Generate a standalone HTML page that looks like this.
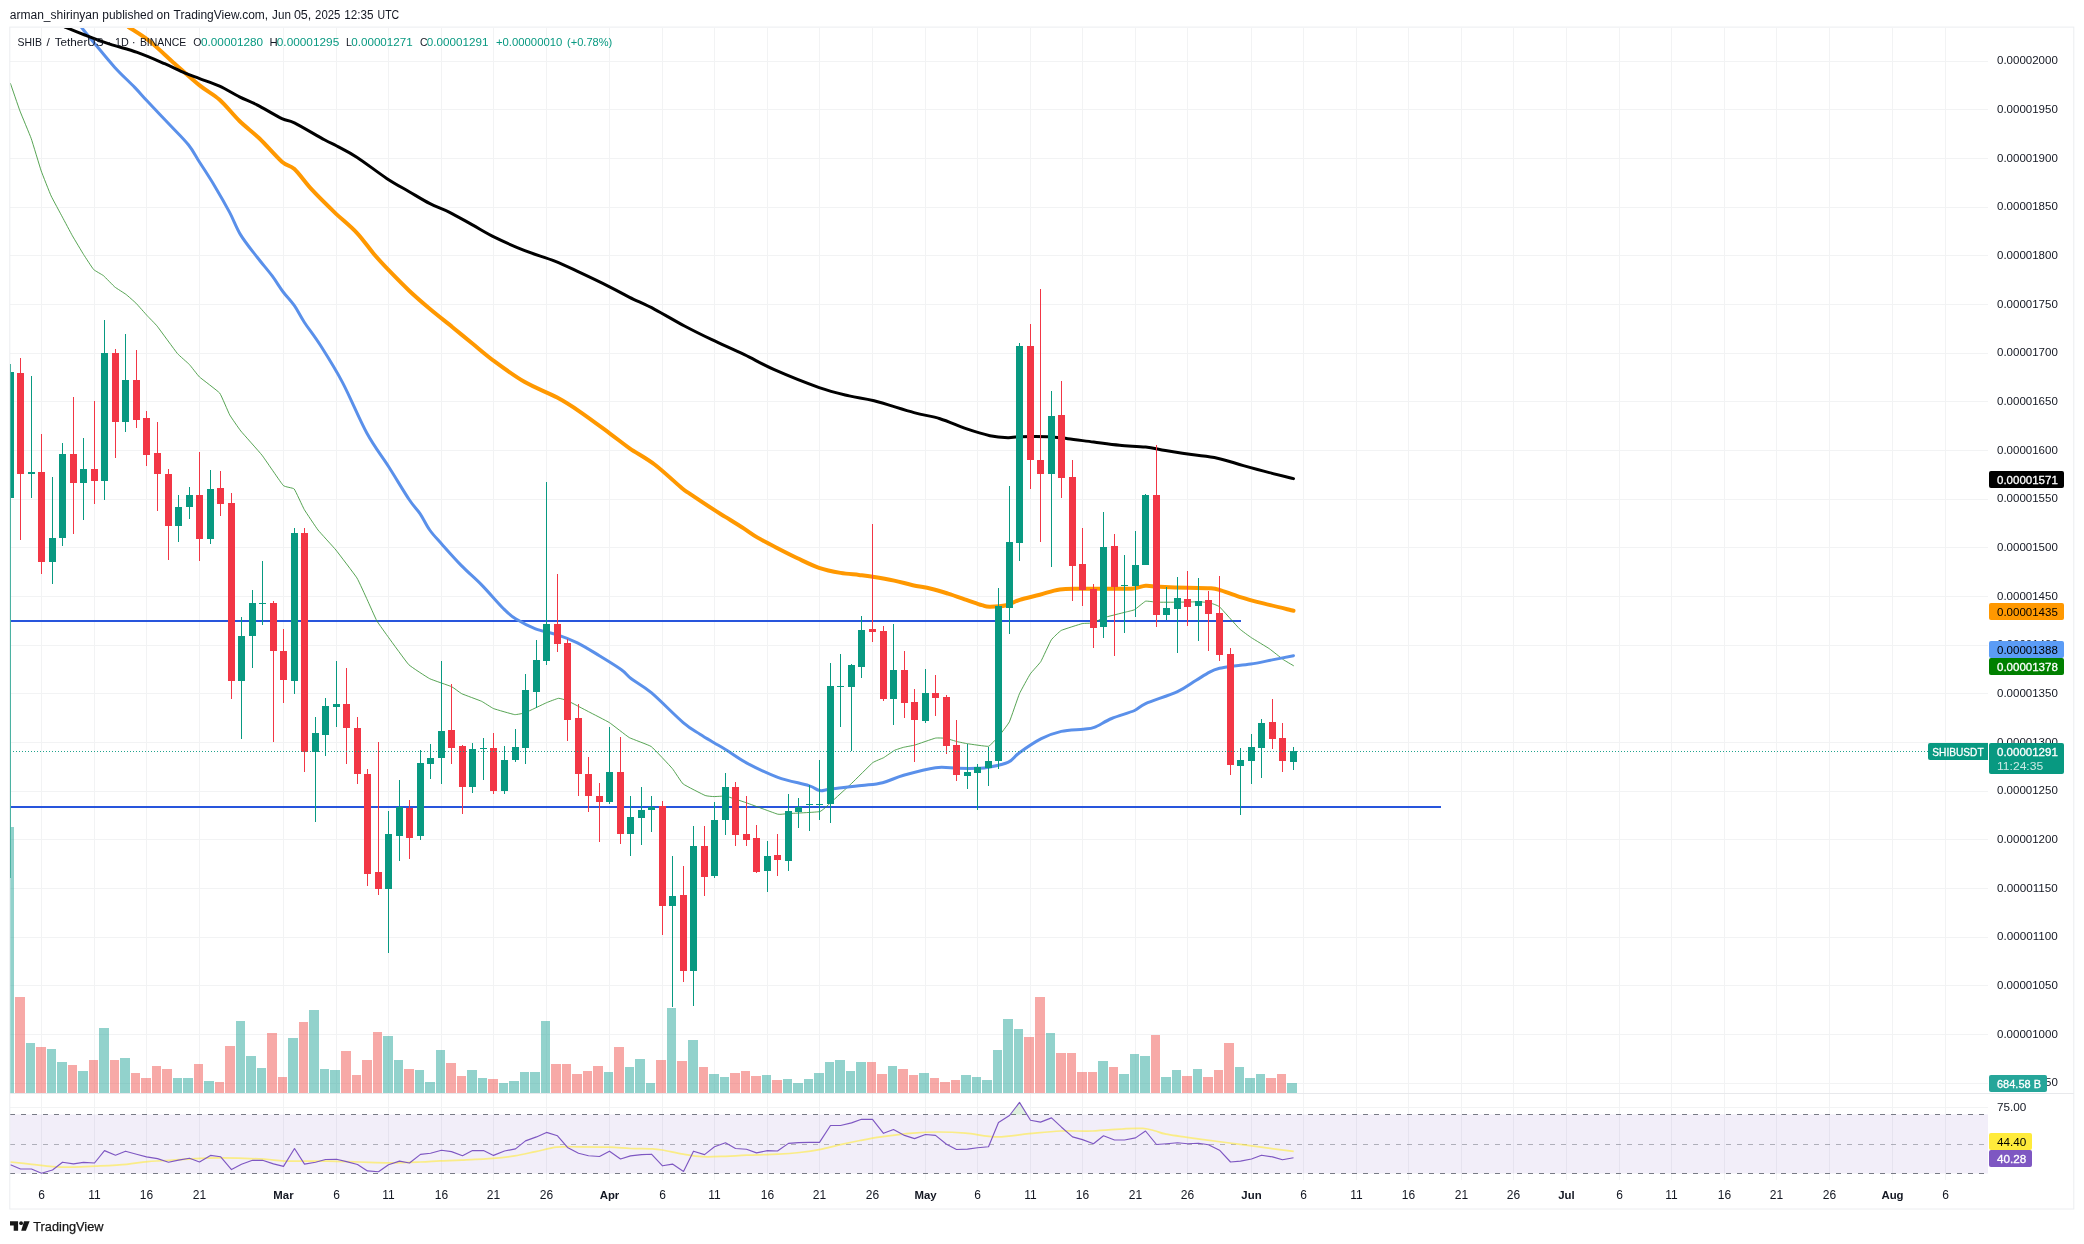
<!DOCTYPE html>
<html><head><meta charset="utf-8"><title>SHIBUSDT chart</title>
<style>html,body{margin:0;padding:0;background:#fff;width:2084px;height:1244px;overflow:hidden}svg{display:block;will-change:transform}text{font-family:"Liberation Sans", sans-serif;white-space:pre}</style>
</head><body>
<svg width="2084" height="1244" viewBox="0 0 2084 1244" font-family='"Liberation Sans", sans-serif'>
<rect width="2084" height="1244" fill="#fff"/>
<defs>
<clipPath id="cp"><rect x="10" y="28" width="1978" height="1181"/></clipPath>
<clipPath id="cm"><rect x="10" y="28" width="1978" height="1065.5"/></clipPath>
</defs>
<path d="M41.5,28V1180M94.5,28V1180M146.5,28V1180M199.5,28V1180M283.5,28V1180M336.5,28V1180M388.5,28V1180M441.5,28V1180M493.5,28V1180M546.5,28V1180M609.5,28V1180M662.5,28V1180M714.5,28V1180M767.5,28V1180M819.5,28V1180M872.5,28V1180M925.5,28V1180M977.5,28V1180M1030.5,28V1180M1082.5,28V1180M1135.5,28V1180M1187.5,28V1180M1251.5,28V1180M1303.5,28V1180M1356.5,28V1180M1408.5,28V1180M1461.5,28V1180M1513.5,28V1180M1566.5,28V1180M1619.5,28V1180M1671.5,28V1180M1724.5,28V1180M1776.5,28V1180M1829.5,28V1180M1892.5,28V1180M1945.5,28V1180M10,61.5H1988M10,109.5H1988M10,158.5H1988M10,207.5H1988M10,255.5H1988M10,304.5H1988M10,353.5H1988M10,401.5H1988M10,450.5H1988M10,499.5H1988M10,547.5H1988M10,596.5H1988M10,645.5H1988M10,693.5H1988M10,742.5H1988M10,791.5H1988M10,839.5H1988M10,888.5H1988M10,937.5H1988M10,985.5H1988M10,1034.5H1988M10,1083.5H1988M10,1107.5H1988" stroke="#F2F3F4" stroke-width="1" fill="none" shape-rendering="crispEdges"/>
<rect x="10" y="1114.5" width="1978" height="59.0" fill="#7E57C2" fill-opacity="0.1"/>
<path d="M10,1114.5H1988M10,1173.5H1988" stroke="#787B86" stroke-width="1" stroke-dasharray="5 6" fill="none" shape-rendering="crispEdges"/>
<path d="M10,1144.5H1988" stroke="#787B86" stroke-opacity="0.55" stroke-width="1" stroke-dasharray="5 6" fill="none" shape-rendering="crispEdges"/>
<g clip-path="url(#cm)" shape-rendering="crispEdges"><path d="M10,827H14V1093H10ZM26,1043H35V1093H26ZM47,1049H56V1093H47ZM57,1062H67V1093H57ZM78,1071H88V1093H78ZM99,1028H109V1093H99ZM120,1058H130V1093H120ZM173,1078H182V1093H173ZM183,1078H193V1093H183ZM204,1081H214V1093H204ZM236,1021H245V1093H236ZM246,1056H256V1093H246ZM257,1068H266V1093H257ZM288,1038H298V1093H288ZM309,1010H319V1093H309ZM320,1069H329V1093H320ZM330,1070H340V1093H330ZM383,1036H393V1093H383ZM394,1060H403V1093H394ZM415,1070H424V1093H415ZM425,1082H435V1093H425ZM436,1050H445V1093H436ZM467,1070H477V1093H467ZM478,1078H487V1093H478ZM499,1083H508V1093H499ZM509,1081H519V1093H509ZM520,1072H529V1093H520ZM530,1072H540V1093H530ZM541,1021H550V1093H541ZM604,1072H613V1093H604ZM625,1067H634V1093H625ZM635,1059H645V1093H635ZM646,1083H655V1093H646ZM667,1008H676V1093H667ZM688,1040H698V1093H688ZM709,1074H719V1093H709ZM720,1077H729V1093H720ZM762,1075H771V1093H762ZM783,1079H792V1093H783ZM793,1083H803V1093H793ZM804,1079H813V1093H804ZM814,1073H824V1093H814ZM825,1062H834V1093H825ZM835,1060H845V1093H835ZM846,1071H855V1093H846ZM856,1062H866V1093H856ZM888,1066H897V1093H888ZM919,1073H929V1093H919ZM961,1075H971V1093H961ZM972,1077H981V1093H972ZM982,1080H992V1093H982ZM993,1050H1002V1093H993ZM1003,1019H1013V1093H1003ZM1014,1029H1023V1093H1014ZM1046,1033H1055V1093H1046ZM1098,1061H1108V1093H1098ZM1119,1074H1129V1093H1119ZM1130,1054H1139V1093H1130ZM1140,1056H1150V1093H1140ZM1161,1077H1171V1093H1161ZM1172,1070H1181V1093H1172ZM1193,1069H1202V1093H1193ZM1235,1067H1244V1093H1235ZM1245,1078H1255V1093H1245ZM1256,1074H1265V1093H1256ZM1287,1083H1297V1093H1287Z" fill="#26A69A" fill-opacity="0.5"/><path d="M15,997H25V1093H15ZM36,1047H46V1093H36ZM68,1065H77V1093H68ZM89,1060H98V1093H89ZM110,1060H119V1093H110ZM131,1073H140V1093H131ZM141,1078H151V1093H141ZM152,1066H161V1093H152ZM162,1069H172V1093H162ZM194,1064H203V1093H194ZM215,1082H224V1093H215ZM225,1046H235V1093H225ZM267,1033H277V1093H267ZM278,1077H287V1093H278ZM299,1022H308V1093H299ZM341,1051H351V1093H341ZM352,1075H361V1093H352ZM362,1060H372V1093H362ZM373,1032H382V1093H373ZM404,1069H414V1093H404ZM446,1063H456V1093H446ZM457,1076H466V1093H457ZM488,1079H498V1093H488ZM551,1064H561V1093H551ZM562,1064H571V1093H562ZM572,1074H582V1093H572ZM583,1071H592V1093H583ZM593,1066H603V1093H593ZM614,1047H624V1093H614ZM656,1060H666V1093H656ZM677,1061H687V1093H677ZM699,1067H708V1093H699ZM730,1073H740V1093H730ZM741,1071H750V1093H741ZM751,1076H761V1093H751ZM772,1080H782V1093H772ZM867,1062H876V1093H867ZM877,1074H887V1093H877ZM898,1069H908V1093H898ZM909,1075H918V1093H909ZM930,1078H939V1093H930ZM940,1082H950V1093H940ZM951,1080H960V1093H951ZM1024,1037H1034V1093H1024ZM1035,997H1045V1093H1035ZM1056,1053H1066V1093H1056ZM1067,1053H1076V1093H1067ZM1077,1072H1087V1093H1077ZM1088,1072H1097V1093H1088ZM1109,1067H1118V1093H1109ZM1151,1035H1160V1093H1151ZM1182,1076H1192V1093H1182ZM1203,1077H1213V1093H1203ZM1214,1070H1223V1093H1214ZM1224,1043H1234V1093H1224ZM1266,1078H1276V1093H1266ZM1277,1074H1286V1093H1277Z" fill="#EF5350" fill-opacity="0.5"/></g>
<path d="M10,621H1241M10,807H1441" stroke="#2855DC" stroke-width="2" fill="none" shape-rendering="crispEdges"/>
<g clip-path="url(#cm)" fill="none" stroke-linejoin="round" stroke-linecap="round">
<path d="M10.5,83.6C10.97,84.97 18.96,108.35 20,111.1C21.04,113.84 30.14,135.51 31.2,138.5C32.26,141.49 40.21,168.03 41.2,170.9C42.2,173.77 50.04,193.59 51.1,195.9C52.16,198.21 61.34,215.1 62.4,217.1C63.46,219.09 71.34,233.93 72.4,235.8C73.46,237.67 82.54,252.81 83.6,254.5C84.66,256.19 92.6,268.44 93.6,269.5C94.59,270.56 102.44,274.82 103.5,275.7C104.56,276.57 113.67,286.06 114.8,287C115.92,287.94 124.94,293.59 126,294.4C127.06,295.21 134.94,302.13 136,303.2C137.06,304.26 146.14,314.55 147.2,315.7C148.26,316.85 155.69,324.31 157.2,326.2C158.7,328.08 175.69,351.48 177.3,353.4C178.91,355.31 188.29,363.32 189.4,364.5C190.51,365.68 197.99,375.57 199.5,377C201.01,378.43 218.19,391.21 219.7,393.1C221.21,395 228.64,413 229.7,414.9C230.75,416.79 239.19,428.99 240.8,431C242.42,433.01 259.88,452.48 262,455.2C264.12,457.92 281.59,483.71 283.2,485.4C284.81,487.09 293.14,487.79 294.2,489C295.25,490.21 303.11,507.55 304.3,509.6C305.49,511.65 316.42,527.98 318,530C319.58,532.02 333.95,547.61 335.9,550C337.84,552.39 355.33,575.4 356.9,577.9C358.47,580.39 366.31,597.75 367.3,599.9C368.3,602.04 375.73,618.9 376.8,620.8C377.88,622.69 387.2,635.6 388.8,637.8C390.4,640 406.75,662.66 408.8,664.7C410.85,666.75 427.56,677.6 429.7,678.7C431.84,679.8 450.1,685.95 451.7,686.7C453.3,687.45 460.2,692.97 461.7,693.7C463.19,694.43 480,700.55 481.6,701.3C483.2,702.04 491.95,707.94 493.6,708.6C495.25,709.26 513,714.4 514.6,714.6C516.2,714.8 523.9,713.2 525.5,712.6C527.1,712 544.85,703.42 546.5,702.7C548.15,701.99 557.45,698.4 558.5,698.3C559.55,698.2 566,700.04 567.5,700.7C569,701.37 586.3,710.5 588.4,711.6C590.5,712.7 607.36,721.3 609.4,722.6C611.44,723.9 627.2,736.4 629.3,737.6C631.39,738.8 649.15,745.06 651.3,746.6C653.45,748.14 670.7,766.63 672.3,768.5C673.89,770.37 681.56,782.65 683.2,784C684.85,785.35 703.66,794.87 705.2,795.5C706.74,796.13 712.97,796.57 714,796.6C715.03,796.63 724.3,795.9 725.9,796.2C727.5,796.5 743.3,801.7 745.9,802.6C748.5,803.5 775.7,813.65 777.8,814.2C779.89,814.75 785.7,813.73 787.8,813.6C789.9,813.47 817.65,812.15 819.8,811.6C821.94,811.05 829.11,804.01 830.7,802.6C832.3,801.19 849.6,785.29 851.7,783.3C853.8,781.3 871.11,763.98 872.7,762.7C874.3,761.42 882.5,758.32 883.6,757.7C884.7,757.08 893.6,750.82 894.6,750.3C895.6,749.78 902.6,747.56 903.6,747.3C904.6,747.04 913,745.56 914.6,745.1C916.2,744.64 933.96,738.44 935.5,738.1C937.04,737.76 944.4,738.12 945.5,738.3C946.6,738.48 956.4,741.43 957.5,741.7C958.6,741.97 965.96,743.47 967.5,743.7C969.04,743.93 986.86,746.65 988.4,746.3C989.94,745.95 997.35,737.93 998.4,736.7C999.45,735.48 1008.35,723.94 1009.4,721.8C1010.45,719.65 1018.36,696.19 1019.4,693.8C1020.44,691.4 1029.23,675.51 1030.3,673.9C1031.37,672.29 1039.75,663.3 1040.8,661.6C1041.85,659.9 1050.27,641.46 1051.3,639.9C1052.33,638.34 1059.75,631.21 1061.3,630.4C1062.85,629.59 1080.61,623.97 1082.2,623.6C1083.8,623.23 1092.12,623.29 1093.2,623C1094.28,622.71 1102.08,618.25 1103.7,617.7C1105.32,617.16 1124.05,612.5 1125.6,612.1C1127.14,611.7 1133.6,610.25 1134.6,609.7C1135.6,609.16 1144.5,601.58 1145.6,601.2C1146.7,600.83 1155,602.15 1156.6,602.2C1158.19,602.25 1175.36,602.22 1177.5,602.2C1179.64,602.18 1197.9,601.77 1199.5,601.8C1201.1,601.83 1208.51,602.55 1209.5,602.8C1210.49,603.04 1217.91,605.41 1219.4,606.7C1220.89,608 1237.8,627.15 1239.4,628.7C1241,630.25 1249.91,636.7 1251.4,637.7C1252.89,638.7 1267.7,647.61 1269.3,648.7C1270.89,649.8 1282.09,658.75 1283.3,659.6C1284.51,660.45 1292.99,665.4 1293.5,665.7" stroke="#3A9436" stroke-opacity="0.85" stroke-width="1"/>
<path d="M81.1,27C83.38,29.78 89.18,36.97 94.8,43.7C100.42,50.43 108.15,60.12 114.8,67.4C121.45,74.68 129.3,81.78 134.7,87.4C140.1,93.02 141.37,94.87 147.2,101.1C153.03,107.33 162.83,117.52 169.7,124.8C176.57,132.08 183.42,138.57 188.4,144.8C193.38,151.03 195.23,155.35 199.6,162.2C203.97,169.05 209.62,177.58 214.6,185.9C219.58,194.22 225.13,203.9 229.5,212.1C233.87,220.3 236.22,227.62 240.8,235.1C245.38,242.58 251.8,250.23 257,257C262.2,263.77 267.63,269.87 272,275.7C276.37,281.53 279.47,287 283.2,292C286.93,297 290.88,300.67 294.4,305.7C297.92,310.73 299.97,315.6 304.3,322.2C308.63,328.8 314.02,335.23 320.4,345.3C326.78,355.37 334.87,367.98 342.6,382.6C350.33,397.22 359.07,418.88 366.8,433C374.53,447.12 381.95,456.22 389,467.3C396.05,478.38 403.93,491.78 409.1,499.5C414.27,507.22 416.57,508.52 420,513.6C423.43,518.68 426.08,524.93 429.7,530C433.32,535.07 436.37,538.02 441.7,544C447.03,549.98 455.05,559.08 461.7,565.9C468.35,572.72 474.62,577.75 481.6,584.9C488.58,592.05 497.93,603.15 503.6,608.8C509.27,614.45 510.28,615.47 515.6,618.8C520.92,622.13 528.52,626.13 535.5,628.8C542.48,631.47 550.52,632.47 557.5,634.8C564.48,637.13 570.42,639.32 577.4,642.8C584.38,646.28 592.07,651.22 599.4,655.7C606.73,660.18 616.08,665.87 621.4,669.7C626.72,673.53 626.32,674.87 631.3,678.7C636.28,682.53 642.65,685.38 651.3,692.7C659.95,700.02 675.08,715.68 683.2,722.6C691.32,729.52 694.87,730.85 700,734.2C705.13,737.55 709.68,740.12 714,742.7C718.32,745.28 720.42,746.3 725.9,749.7C731.38,753.1 738.25,758.5 746.9,763.1C755.55,767.7 767.48,773.55 777.8,777.3C788.12,781.05 801.8,783.38 808.8,785.6C815.8,787.82 816.15,790.03 819.8,790.6C823.45,791.17 823.72,789.83 830.7,789C837.68,788.17 853.05,786.65 861.7,785.6C870.35,784.55 875.62,784.42 882.6,782.7C889.58,780.98 894.78,777.8 903.6,775.3C912.42,772.8 926.52,768.87 935.5,767.7C944.48,766.53 950.52,768.2 957.5,768.3C964.48,768.4 972.25,768.47 977.4,768.3C982.55,768.13 983.23,768.33 988.4,767.3C993.57,766.27 1003.23,764.53 1008.4,762.1C1013.57,759.67 1013.92,756.6 1019.4,752.7C1024.88,748.8 1034.32,742.25 1041.3,738.7C1048.28,735.15 1054.32,732.98 1061.3,731.4C1068.28,729.82 1077.72,729.87 1083.2,729.2C1088.68,728.53 1089.45,729.18 1094.2,727.4C1098.95,725.62 1104.97,721.32 1111.7,718.5C1118.43,715.68 1128.95,712.98 1134.6,710.5C1140.25,708.02 1138.45,706.75 1145.6,703.6C1152.75,700.45 1169.13,695.45 1177.5,691.6C1185.87,687.75 1190.45,683.75 1195.8,680.5C1201.15,677.25 1205.65,674.13 1209.6,672.1C1213.55,670.07 1215.93,669.27 1219.5,668.3C1223.07,667.33 1225.78,667 1231,666.3C1236.22,665.6 1243.93,665.17 1250.8,664.1C1257.67,663.03 1265.08,661.3 1272.2,659.9C1279.32,658.5 1289.95,656.4 1293.5,655.7" stroke="#5A90EA" stroke-width="3"/>
<path d="M128.5,27C132.03,29.37 142,35.08 149.7,41.2C157.4,47.32 166.38,56.33 174.7,63.7C183.02,71.07 192.12,79.38 199.6,85.4C207.08,91.42 212.95,93.87 219.6,99.8C226.25,105.73 232.85,114.55 239.5,121C246.15,127.45 252.43,131.72 259.5,138.5C266.57,145.28 276.08,156.62 281.9,161.7C287.72,166.78 289.4,164.33 294.4,169C299.4,173.67 305.25,182.52 311.9,189.7C318.55,196.88 326.82,204.92 334.3,212.1C341.78,219.28 350.13,225.73 356.8,232.8C363.47,239.87 368.9,248.18 374.3,254.5C379.7,260.82 383.38,264.67 389.2,270.7C395.02,276.73 402.4,284.32 409.2,290.7C416,297.08 422.78,302.92 430,309C437.22,315.08 445.43,321.45 452.5,327.2C459.57,332.95 465.33,337.75 472.4,343.5C479.47,349.25 486.17,355.27 494.9,361.7C503.63,368.13 514.42,376.12 524.8,382.1C535.18,388.08 548.05,392.68 557.2,397.6C566.35,402.52 570.97,405.65 579.7,411.6C588.43,417.55 601.28,427.18 609.6,433.3C617.92,439.42 622.1,443.1 629.6,448.3C637.1,453.5 645.87,457.85 654.6,464.5C663.33,471.15 676.1,483.32 682,488.2C687.9,493.08 684.83,490.3 690,493.8C695.17,497.3 707.12,505.35 713,509.2C718.88,513.05 720.18,513.7 725.3,516.9C730.42,520.1 738.32,524.95 743.7,528.4C749.08,531.85 751.97,534.28 757.6,537.6C763.23,540.92 770.85,544.85 777.5,548.3C784.15,551.75 790.58,555.05 797.5,558.3C804.42,561.55 811.83,565.37 819,567.8C826.17,570.23 833.85,571.72 840.5,572.9C847.15,574.08 853.53,574.27 858.9,574.9C864.27,575.53 866.82,575.75 872.7,576.7C878.58,577.65 887.53,579.18 894.2,580.6C900.87,582.02 906.55,583.85 912.7,585.2C918.85,586.55 925.22,587.3 931.1,588.7C936.98,590.1 942.12,591.75 948,593.6C953.88,595.45 960.77,597.88 966.4,599.8C972.03,601.72 977.97,603.95 981.8,605.1C985.63,606.25 985.32,606.67 989.4,606.7C993.48,606.73 1001.23,606.45 1006.3,605.3C1011.37,604.15 1014.22,601.55 1019.8,599.8C1025.38,598.05 1033.13,596.53 1039.8,594.8C1046.47,593.07 1052.48,590.4 1059.8,589.4C1067.12,588.4 1075.05,588.9 1083.7,588.8C1092.35,588.7 1103.38,588.87 1111.7,588.8C1120.02,588.73 1127.95,588.9 1133.6,588.4C1139.25,587.9 1141.27,586.07 1145.6,585.8C1149.93,585.53 1152.62,586.47 1159.6,586.8C1166.58,587.13 1179.18,587.57 1187.5,587.8C1195.82,588.03 1204.18,587.87 1209.5,588.2C1214.82,588.53 1214.42,588.37 1219.4,589.8C1224.38,591.23 1232.07,594.53 1239.4,596.8C1246.73,599.07 1254.38,601.08 1263.4,603.4C1272.42,605.72 1288.48,609.48 1293.5,610.7" stroke="#FF9800" stroke-width="4"/>
<path d="M64.9,27C68.22,28.33 77.32,32.13 84.8,35C92.28,37.87 101.07,41.3 109.8,44.2C118.53,47.1 128.05,49.15 137.2,52.4C146.35,55.65 156.8,60.28 164.7,63.7C172.6,67.12 178.78,70.42 184.6,72.9C190.42,75.38 193.77,76.4 199.6,78.6C205.43,80.8 212.95,83.07 219.6,86.1C226.25,89.13 233.27,93.68 239.5,96.8C245.73,99.92 249.93,101.17 257,104.8C264.07,108.43 275.67,115.6 281.9,118.6C288.13,121.6 287.32,119.27 294.4,122.8C301.48,126.33 317.33,135.93 324.4,139.8C331.47,143.67 331.4,143.1 336.8,146C342.2,148.9 348.48,151.8 356.8,157.2C365.12,162.6 377.97,172.65 386.7,178.4C395.43,184.15 401.98,187.48 409.2,191.7C416.42,195.92 423.35,200.3 430,203.7C436.65,207.1 442.03,208.57 449.1,212.1C456.17,215.63 464.77,220.68 472.4,224.9C480.03,229.12 486.17,233.12 494.9,237.4C503.63,241.68 514.82,246.65 524.8,250.6C534.78,254.55 545.65,257.47 554.8,261.1C563.95,264.73 570.57,268.12 579.7,272.4C588.83,276.68 601.28,282.65 609.6,286.8C617.92,290.95 622.1,293.55 629.6,297.3C637.1,301.05 645.45,304.52 654.6,309.3C663.75,314.08 674.95,320.93 684.5,326C694.05,331.07 701.92,334.92 711.9,339.7C721.88,344.48 734,349.7 744.4,354.7C754.8,359.7 761.83,364.22 774.3,369.7C786.77,375.18 806.72,383.23 819.2,387.6C831.68,391.97 840.05,393.7 849.2,395.9C858.35,398.1 863.3,398.02 874.1,400.8C884.9,403.58 903.02,409.62 914,412.6C924.98,415.58 931.33,416.02 940,418.7C948.67,421.38 957.68,425.87 966,428.7C974.32,431.53 982.92,434.2 989.9,435.7C996.88,437.2 1002.92,437.53 1007.9,437.7C1012.88,437.87 1013.15,436.87 1019.8,436.7C1026.45,436.53 1039.82,436.37 1047.8,436.7C1055.78,437.03 1060.05,437.8 1067.7,438.7C1075.35,439.6 1085.05,441 1093.7,442.1C1102.35,443.2 1110.95,444.47 1119.6,445.3C1128.25,446.13 1137.95,446.22 1145.6,447.1C1153.25,447.98 1157.85,449.35 1165.5,450.6C1173.15,451.85 1182.85,453.33 1191.5,454.6C1200.15,455.87 1208.75,456.37 1217.4,458.2C1226.05,460.03 1234.75,463.2 1243.4,465.6C1252.05,468 1260.95,470.43 1269.3,472.6C1277.65,474.77 1289.47,477.6 1293.5,478.6" stroke="#000" stroke-width="3"/>
</g>
<g clip-path="url(#cm)" shape-rendering="crispEdges"><path d="M10,364h1V878h-1ZM7,372h7V498h-7ZM31,376h1V498h-1ZM28,472h7V474h-7ZM52,477h1V584h-1ZM49,538h7V562h-7ZM62,443h1V546h-1ZM59,454h7V538h-7ZM83,438h1V520h-1ZM80,469h7V483h-7ZM104,320h1V500h-1ZM101,353h7V481h-7ZM125,334h1V432h-1ZM122,380h7V422h-7ZM178,495h1V542h-1ZM175,507h7V526h-7ZM189,487h1V519h-1ZM186,495h7V507h-7ZM210,470h1V544h-1ZM207,489h7V539h-7ZM241,617h1V739h-1ZM238,636h7V681h-7ZM252,590h1V668h-1ZM249,603h7V636h-7ZM262,561h1V625h-1ZM259,603h7V604h-7ZM294,528h1V694h-1ZM291,533h7V681h-7ZM315,717h1V822h-1ZM312,733h7V752h-7ZM325,698h1V756h-1ZM322,706h7V735h-7ZM336,661h1V727h-1ZM333,704h7V707h-7ZM388,811h1V953h-1ZM385,834h7V889h-7ZM399,780h1V861h-1ZM396,807h7V836h-7ZM420,750h1V840h-1ZM417,763h7V836h-7ZM430,744h1V779h-1ZM427,758h7V764h-7ZM441,661h1V784h-1ZM438,731h7V758h-7ZM472,743h1V793h-1ZM469,749h7V787h-7ZM483,738h1V780h-1ZM480,748h7V749h-7ZM504,746h1V794h-1ZM501,760h7V791h-7ZM515,729h1V762h-1ZM512,747h7V760h-7ZM525,674h1V764h-1ZM522,690h7V748h-7ZM536,640h1V708h-1ZM533,660h7V692h-7ZM546,482h1V665h-1ZM543,624h7V661h-7ZM609,727h1V804h-1ZM606,772h7V802h-7ZM630,796h1V856h-1ZM627,817h7V834h-7ZM641,787h1V845h-1ZM638,810h7V818h-7ZM651,796h1V832h-1ZM648,807h7V810h-7ZM672,856h1V1007h-1ZM669,896h7V906h-7ZM693,826h1V1006h-1ZM690,846h7V971h-7ZM714,802h1V878h-1ZM711,820h7V876h-7ZM725,773h1V835h-1ZM722,787h7V820h-7ZM767,841h1V892h-1ZM764,856h7V871h-7ZM788,794h1V871h-1ZM785,811h7V861h-7ZM798,798h1V828h-1ZM795,807h7V812h-7ZM809,785h1V831h-1ZM806,804h7V805h-7ZM819,760h1V820h-1ZM816,804h7V805h-7ZM830,663h1V823h-1ZM827,686h7V804h-7ZM840,654h1V727h-1ZM837,686h7V687h-7ZM851,664h1V751h-1ZM848,665h7V687h-7ZM861,616h1V678h-1ZM858,630h7V667h-7ZM893,624h1V725h-1ZM890,670h7V699h-7ZM925,669h1V723h-1ZM922,693h7V721h-7ZM967,744h1V789h-1ZM964,772h7V776h-7ZM977,764h1V810h-1ZM974,767h7V773h-7ZM988,747h1V786h-1ZM985,761h7V768h-7ZM998,588h1V769h-1ZM995,606h7V761h-7ZM1009,486h1V634h-1ZM1006,542h7V608h-7ZM1019,343h1V561h-1ZM1016,346h7V543h-7ZM1051,391h1V567h-1ZM1048,416h7V474h-7ZM1103,512h1V638h-1ZM1100,547h7V627h-7ZM1124,555h1V633h-1ZM1121,585h7V586h-7ZM1135,531h1V617h-1ZM1132,565h7V586h-7ZM1145,494h1V565h-1ZM1142,495h7V565h-7ZM1166,587h1V620h-1ZM1163,608h7V615h-7ZM1177,577h1V653h-1ZM1174,598h7V609h-7ZM1198,578h1V641h-1ZM1195,601h7V606h-7ZM1240,748h1V815h-1ZM1237,760h7V766h-7ZM1251,734h1V784h-1ZM1248,747h7V761h-7ZM1261,719h1V778h-1ZM1258,723h7V748h-7ZM1293,747h1V770h-1ZM1290,751h7V762h-7Z" fill="#089981"/><path d="M20,358h1V540h-1ZM17,373h7V474h-7ZM41,434h1V574h-1ZM38,472h7V562h-7ZM73,397h1V534h-1ZM70,454h7V483h-7ZM94,401h1V504h-1ZM91,469h7V481h-7ZM115,349h1V458h-1ZM112,353h7V422h-7ZM136,350h1V428h-1ZM133,380h7V420h-7ZM146,411h1V466h-1ZM143,418h7V455h-7ZM157,422h1V511h-1ZM154,453h7V474h-7ZM168,469h1V560h-1ZM165,474h7V526h-7ZM199,452h1V561h-1ZM196,495h7V539h-7ZM220,471h1V516h-1ZM217,488h7V504h-7ZM231,493h1V699h-1ZM228,503h7V681h-7ZM273,601h1V742h-1ZM270,603h7V651h-7ZM283,629h1V703h-1ZM280,651h7V680h-7ZM304,528h1V772h-1ZM301,533h7V752h-7ZM346,668h1V764h-1ZM343,704h7V728h-7ZM357,717h1V784h-1ZM354,728h7V774h-7ZM367,769h1V886h-1ZM364,774h7V874h-7ZM378,742h1V895h-1ZM375,872h7V889h-7ZM409,800h1V859h-1ZM406,808h7V838h-7ZM451,684h1V764h-1ZM448,730h7V748h-7ZM462,745h1V814h-1ZM459,746h7V787h-7ZM493,733h1V794h-1ZM490,748h7V791h-7ZM557,574h1V652h-1ZM554,624h7V644h-7ZM567,639h1V741h-1ZM564,643h7V720h-7ZM578,704h1V796h-1ZM575,718h7V774h-7ZM588,757h1V812h-1ZM585,774h7V796h-7ZM599,783h1V842h-1ZM596,796h7V802h-7ZM620,737h1V844h-1ZM617,772h7V834h-7ZM662,801h1V935h-1ZM659,806h7V906h-7ZM683,866h1V982h-1ZM680,895h7V971h-7ZM704,826h1V896h-1ZM701,846h7V877h-7ZM735,782h1V846h-1ZM732,787h7V835h-7ZM746,796h1V846h-1ZM743,834h7V840h-7ZM756,825h1V873h-1ZM753,838h7V872h-7ZM777,834h1V876h-1ZM774,855h7V860h-7ZM872,524h1V642h-1ZM869,629h7V632h-7ZM883,626h1V701h-1ZM880,631h7V699h-7ZM904,651h1V718h-1ZM901,670h7V703h-7ZM914,689h1V762h-1ZM911,702h7V720h-7ZM935,675h1V716h-1ZM932,693h7V698h-7ZM946,695h1V754h-1ZM943,697h7V746h-7ZM956,720h1V781h-1ZM953,745h7V775h-7ZM1030,324h1V489h-1ZM1027,346h7V460h-7ZM1040,289h1V542h-1ZM1037,460h7V474h-7ZM1061,381h1V498h-1ZM1058,415h7V478h-7ZM1072,460h1V601h-1ZM1069,477h7V566h-7ZM1082,528h1V606h-1ZM1079,564h7V590h-7ZM1093,584h1V648h-1ZM1090,589h7V628h-7ZM1114,534h1V656h-1ZM1111,546h7V587h-7ZM1156,445h1V627h-1ZM1153,495h7V615h-7ZM1187,571h1V626h-1ZM1184,599h7V607h-7ZM1208,591h1V651h-1ZM1205,600h7V614h-7ZM1219,576h1V661h-1ZM1216,613h7V655h-7ZM1230,648h1V775h-1ZM1227,654h7V765h-7ZM1272,699h1V749h-1ZM1269,722h7V739h-7ZM1282,723h1V772h-1ZM1279,738h7V761h-7Z" fill="#F23645"/></g>
<path d="M10,751.5H1928" stroke="#089981" stroke-opacity="0.9" stroke-width="1" stroke-dasharray="1 2" fill="none" shape-rendering="crispEdges"/>
<path d="M1010.3,1114.5L1019.5,1102.4L1026.65,1114.5Z" fill="#4CAF50" fill-opacity="0.18"/>
<g clip-path="url(#cp)" fill="none" stroke-linejoin="round">
<path d="M10.4,1162C13.95,1162.38 24.63,1163.53 31.7,1164.3C38.77,1165.07 45.77,1166.13 52.8,1166.6C59.83,1167.07 66.87,1167.17 73.9,1167.1C80.93,1167.03 86.2,1166.67 95,1166.2C103.8,1165.73 117.9,1165.07 126.7,1164.3C135.5,1163.53 139,1162.37 147.8,1161.6C156.6,1160.83 170.7,1160.23 179.5,1159.7C188.3,1159.17 193.57,1158.72 200.6,1158.4C207.63,1158.08 211.15,1157.67 221.7,1157.8C232.25,1157.93 253.35,1158.65 263.9,1159.2C274.45,1159.75 274.43,1160.78 285,1161.1C295.57,1161.42 314.98,1160.95 327.3,1161.1C339.62,1161.25 348.35,1161.72 358.9,1162C369.45,1162.28 380.38,1162.8 390.6,1162.8C400.82,1162.8 411.97,1162.32 420.2,1162C428.43,1161.68 433.08,1161.22 440,1160.9C446.92,1160.58 452.82,1160.52 461.7,1160.1C470.58,1159.68 484.5,1159.1 493.3,1158.4C502.1,1157.7 507.45,1157.03 514.5,1155.9C521.55,1154.77 528.57,1153.05 535.6,1151.6C542.63,1150.15 549.67,1148 556.7,1147.2C563.73,1146.4 569,1146.8 577.8,1146.8C586.6,1146.8 600.7,1146.92 609.5,1147.2C618.3,1147.48 623.57,1148.22 630.6,1148.5C637.63,1148.78 646.42,1148.65 651.7,1148.9C656.98,1149.15 657.02,1149.12 662.3,1150C667.58,1150.88 676.72,1153.08 683.4,1154.2C690.08,1155.32 695.37,1156.35 702.4,1156.7C709.43,1157.05 718.22,1156.55 725.6,1156.3C732.98,1156.05 737.9,1155.55 746.7,1155.2C755.5,1154.85 769.6,1154.65 778.4,1154.2C787.2,1153.75 792.47,1153.32 799.5,1152.5C806.53,1151.68 813.57,1150.67 820.6,1149.3C827.63,1147.93 835.13,1145.77 841.7,1144.3C848.27,1142.83 853.43,1141.73 860,1140.5C866.57,1139.27 872.3,1138.13 881.1,1136.9C889.9,1135.67 903.3,1133.92 912.8,1133.1C922.3,1132.28 929.3,1132 938.1,1132C946.9,1132 955.75,1132.28 965.6,1133.1C975.45,1133.92 986.65,1136.8 997.2,1136.9C1007.75,1137 1018.33,1134.68 1028.9,1133.7C1039.47,1132.72 1050.03,1131.45 1060.6,1131C1071.17,1130.55 1081.75,1131.37 1092.3,1131C1102.85,1130.63 1115.47,1129.23 1123.9,1128.8C1132.33,1128.37 1137.62,1128.03 1142.9,1128.4C1148.18,1128.77 1151.72,1130.05 1155.6,1131C1159.48,1131.95 1159.17,1132.8 1166.2,1134.1C1173.23,1135.4 1187.25,1137.32 1197.8,1138.8C1208.35,1140.28 1218.93,1141.6 1229.5,1143C1240.07,1144.4 1250.5,1145.8 1261.2,1147.2C1271.9,1148.6 1288.28,1150.7 1293.7,1151.4" stroke="#FFEB3B" stroke-opacity="0.6" stroke-width="1.7"/>
<path d="M10.5,1164.7L20.5,1169L31.5,1169L41.5,1173.2L52.5,1170L62.5,1162.2L73.5,1163.9L83.5,1162.4L94.5,1163L104.5,1150.6L115.5,1155.2L125.5,1151.2L136.5,1154.2L146.5,1156.9L157.5,1158.6L168.5,1162.2L178.5,1160.1L189.5,1158.2L199.5,1162L210.5,1155.4L220.5,1156.7L231.5,1169.6L241.5,1164.3L252.5,1160.3L262.5,1160.3L273.5,1163.9L283.5,1166.4L294.5,1148.5L304.5,1164.1L315.5,1162.2L325.5,1159.5L336.5,1159.2L346.5,1161.6L357.5,1164.5L367.5,1170.9L378.5,1171.7L388.5,1164.7L399.5,1161.1L409.5,1163L420.5,1154.4L430.5,1153.3L441.5,1150.2L451.5,1151.6L462.5,1155.7L472.5,1150.6L483.5,1150.6L493.5,1155.4L504.5,1151L515.5,1148.9L525.5,1140.9L536.5,1136.9L546.5,1132.4L557.5,1135.8L567.5,1147.4L578.5,1153.3L588.5,1155.7L599.5,1156.5L609.5,1151.2L620.5,1159L630.5,1155.9L641.5,1154.6L651.5,1154.2L662.5,1165.8L672.5,1164.1L683.5,1171.5L693.5,1151.2L704.5,1154.6L714.5,1146.8L725.5,1142.8L735.5,1148.5L746.5,1149.3L756.5,1152.9L767.5,1150.6L777.5,1151L788.5,1143.4L798.5,1142.6L809.5,1142.4L819.5,1142.4L830.5,1125.5L840.5,1125.5L851.5,1122.9L861.5,1119.3L872.5,1119.3L883.5,1133.3L893.5,1129.5L904.5,1135.4L914.5,1138.6L925.5,1134.5L935.5,1135.4L946.5,1144.3L956.5,1149.5L967.5,1149.1L977.5,1147.8L988.5,1146.8L998.5,1122.5L1009.5,1115.5L1019.5,1102.4L1030.5,1120.2L1040.5,1122.1L1051.5,1117.9L1061.5,1127.2L1072.5,1136.9L1082.5,1139.6L1093.5,1143.8L1103.5,1135.8L1114.5,1140L1124.5,1140L1135.5,1137.9L1145.5,1131L1156.5,1144.5L1166.5,1143.8L1177.5,1142.8L1187.5,1143.8L1198.5,1143.2L1208.5,1144.7L1219.5,1150.2L1230.5,1162L1240.5,1161.1L1251.5,1159L1261.5,1155.2L1272.5,1156.9L1282.5,1159.7L1293.5,1157.8" stroke="#7E57C2" stroke-width="1.15"/>
</g>
<path d="M10,1093.5H2074" stroke="#E8E9EC" stroke-width="1" shape-rendering="crispEdges"/>
<rect x="9.8" y="27.1" width="2064.0" height="1181.9" fill="none" stroke="#ECEDF0" stroke-width="1"/>
<text x="1997" y="64.3" font-size="11.5" fill="#131722" textLength="60.8" lengthAdjust="spacingAndGlyphs">0.00002000</text>
<text x="1997" y="112.97" font-size="11.5" fill="#131722" textLength="60.8" lengthAdjust="spacingAndGlyphs">0.00001950</text>
<text x="1997" y="161.64" font-size="11.5" fill="#131722" textLength="60.8" lengthAdjust="spacingAndGlyphs">0.00001900</text>
<text x="1997" y="210.31" font-size="11.5" fill="#131722" textLength="60.8" lengthAdjust="spacingAndGlyphs">0.00001850</text>
<text x="1997" y="258.98" font-size="11.5" fill="#131722" textLength="60.8" lengthAdjust="spacingAndGlyphs">0.00001800</text>
<text x="1997" y="307.65" font-size="11.5" fill="#131722" textLength="60.8" lengthAdjust="spacingAndGlyphs">0.00001750</text>
<text x="1997" y="356.32" font-size="11.5" fill="#131722" textLength="60.8" lengthAdjust="spacingAndGlyphs">0.00001700</text>
<text x="1997" y="404.99" font-size="11.5" fill="#131722" textLength="60.8" lengthAdjust="spacingAndGlyphs">0.00001650</text>
<text x="1997" y="453.66" font-size="11.5" fill="#131722" textLength="60.8" lengthAdjust="spacingAndGlyphs">0.00001600</text>
<text x="1997" y="502.33" font-size="11.5" fill="#131722" textLength="60.8" lengthAdjust="spacingAndGlyphs">0.00001550</text>
<text x="1997" y="551" font-size="11.5" fill="#131722" textLength="60.8" lengthAdjust="spacingAndGlyphs">0.00001500</text>
<text x="1997" y="599.67" font-size="11.5" fill="#131722" textLength="60.8" lengthAdjust="spacingAndGlyphs">0.00001450</text>
<text x="1997" y="648.34" font-size="11.5" fill="#131722" textLength="60.8" lengthAdjust="spacingAndGlyphs">0.00001400</text>
<text x="1997" y="697.01" font-size="11.5" fill="#131722" textLength="60.8" lengthAdjust="spacingAndGlyphs">0.00001350</text>
<text x="1997" y="745.68" font-size="11.5" fill="#131722" textLength="60.8" lengthAdjust="spacingAndGlyphs">0.00001300</text>
<text x="1997" y="794.35" font-size="11.5" fill="#131722" textLength="60.8" lengthAdjust="spacingAndGlyphs">0.00001250</text>
<text x="1997" y="843.02" font-size="11.5" fill="#131722" textLength="60.8" lengthAdjust="spacingAndGlyphs">0.00001200</text>
<text x="1997" y="891.69" font-size="11.5" fill="#131722" textLength="60.8" lengthAdjust="spacingAndGlyphs">0.00001150</text>
<text x="1997" y="940.36" font-size="11.5" fill="#131722" textLength="60.8" lengthAdjust="spacingAndGlyphs">0.00001100</text>
<text x="1997" y="989.03" font-size="11.5" fill="#131722" textLength="60.8" lengthAdjust="spacingAndGlyphs">0.00001050</text>
<text x="1997" y="1037.7" font-size="11.5" fill="#131722" textLength="60.8" lengthAdjust="spacingAndGlyphs">0.00001000</text>
<text x="1997" y="1086.37" font-size="11.5" fill="#131722" textLength="60.8" lengthAdjust="spacingAndGlyphs">0.00000950</text>
<text x="1997" y="1111.3" font-size="11.5" fill="#131722" textLength="29.3" lengthAdjust="spacingAndGlyphs">75.00</text>
<rect x="1989" y="1075" width="58" height="17" rx="2" fill="#26A69A"/>
<text x="1997" y="1087.6" font-size="11.5" fill="#fff" textLength="44" lengthAdjust="spacingAndGlyphs" stroke="#fff" stroke-width="0.3">684.58 B</text>
<rect x="1989" y="471" width="75" height="17" rx="2" fill="#000"/>
<text x="1997" y="483.6" font-size="11.5" fill="#fff" textLength="60.8" lengthAdjust="spacingAndGlyphs" stroke="#fff" stroke-width="0.3">0.00001571</text>
<rect x="1989" y="603" width="75" height="17" rx="2" fill="#FF9800"/>
<text x="1997" y="615.6" font-size="11.5" fill="#000" textLength="60.8" lengthAdjust="spacingAndGlyphs">0.00001435</text>
<rect x="1989" y="641" width="75" height="17" rx="2" fill="#5B9CF6"/>
<text x="1997" y="653.6" font-size="11.5" fill="#000" textLength="60.8" lengthAdjust="spacingAndGlyphs">0.00001388</text>
<rect x="1989" y="658" width="75" height="17" rx="2" fill="#008000"/>
<text x="1997" y="670.6" font-size="11.5" fill="#fff" textLength="60.8" lengthAdjust="spacingAndGlyphs" stroke="#fff" stroke-width="0.3">0.00001378</text>
<rect x="1989" y="743" width="75" height="31" rx="2" fill="#089981"/>
<text x="1997" y="755.8" font-size="11.5" fill="#fff" textLength="60.8" lengthAdjust="spacingAndGlyphs" stroke="#fff" stroke-width="0.3">0.00001291</text>
<text x="1997" y="769.9" font-size="11.5" fill="#fff" textLength="46.2" lengthAdjust="spacingAndGlyphs" fill-opacity="0.8">11:24:35</text>
<path d="M1930,743h58v17h-58a2,2 0 0 1 -2,-2v-13a2,2 0 0 1 2,-2z" fill="#089981"/>
<text x="1932.3" y="755.6" font-size="11.5" fill="#fff" textLength="51.3" lengthAdjust="spacingAndGlyphs" stroke="#fff" stroke-width="0.3">SHIBUSDT</text>
<rect x="1989" y="1133" width="43" height="17" rx="2" fill="#FFEB3B"/>
<text x="1997" y="1145.6" font-size="11.5" fill="#000" textLength="29.3" lengthAdjust="spacingAndGlyphs">44.40</text>
<rect x="1989" y="1150" width="43" height="17" rx="2" fill="#7E57C2"/>
<text x="1997" y="1162.6" font-size="11.5" fill="#fff" textLength="29.3" lengthAdjust="spacingAndGlyphs" stroke="#fff" stroke-width="0.3">40.28</text>
<text x="41.5" y="1199.3" font-size="12" fill="#131722" text-anchor="middle">6</text>
<text x="94.5" y="1199.3" font-size="12" fill="#131722" text-anchor="middle">11</text>
<text x="146.5" y="1199.3" font-size="12" fill="#131722" text-anchor="middle">16</text>
<text x="199.5" y="1199.3" font-size="12" fill="#131722" text-anchor="middle">21</text>
<text x="283.5" y="1199.3" font-size="11.4" fill="#131722" font-weight="bold" text-anchor="middle">Mar</text>
<text x="336.5" y="1199.3" font-size="12" fill="#131722" text-anchor="middle">6</text>
<text x="388.5" y="1199.3" font-size="12" fill="#131722" text-anchor="middle">11</text>
<text x="441.5" y="1199.3" font-size="12" fill="#131722" text-anchor="middle">16</text>
<text x="493.5" y="1199.3" font-size="12" fill="#131722" text-anchor="middle">21</text>
<text x="546.5" y="1199.3" font-size="12" fill="#131722" text-anchor="middle">26</text>
<text x="609.5" y="1199.3" font-size="11.4" fill="#131722" font-weight="bold" text-anchor="middle">Apr</text>
<text x="662.5" y="1199.3" font-size="12" fill="#131722" text-anchor="middle">6</text>
<text x="714.5" y="1199.3" font-size="12" fill="#131722" text-anchor="middle">11</text>
<text x="767.5" y="1199.3" font-size="12" fill="#131722" text-anchor="middle">16</text>
<text x="819.5" y="1199.3" font-size="12" fill="#131722" text-anchor="middle">21</text>
<text x="872.5" y="1199.3" font-size="12" fill="#131722" text-anchor="middle">26</text>
<text x="925.5" y="1199.3" font-size="11.4" fill="#131722" font-weight="bold" text-anchor="middle">May</text>
<text x="977.5" y="1199.3" font-size="12" fill="#131722" text-anchor="middle">6</text>
<text x="1030.5" y="1199.3" font-size="12" fill="#131722" text-anchor="middle">11</text>
<text x="1082.5" y="1199.3" font-size="12" fill="#131722" text-anchor="middle">16</text>
<text x="1135.5" y="1199.3" font-size="12" fill="#131722" text-anchor="middle">21</text>
<text x="1187.5" y="1199.3" font-size="12" fill="#131722" text-anchor="middle">26</text>
<text x="1251.5" y="1199.3" font-size="11.4" fill="#131722" font-weight="bold" text-anchor="middle">Jun</text>
<text x="1303.5" y="1199.3" font-size="12" fill="#131722" text-anchor="middle">6</text>
<text x="1356.5" y="1199.3" font-size="12" fill="#131722" text-anchor="middle">11</text>
<text x="1408.5" y="1199.3" font-size="12" fill="#131722" text-anchor="middle">16</text>
<text x="1461.5" y="1199.3" font-size="12" fill="#131722" text-anchor="middle">21</text>
<text x="1513.5" y="1199.3" font-size="12" fill="#131722" text-anchor="middle">26</text>
<text x="1566.5" y="1199.3" font-size="11.4" fill="#131722" font-weight="bold" text-anchor="middle">Jul</text>
<text x="1619.5" y="1199.3" font-size="12" fill="#131722" text-anchor="middle">6</text>
<text x="1671.5" y="1199.3" font-size="12" fill="#131722" text-anchor="middle">11</text>
<text x="1724.5" y="1199.3" font-size="12" fill="#131722" text-anchor="middle">16</text>
<text x="1776.5" y="1199.3" font-size="12" fill="#131722" text-anchor="middle">21</text>
<text x="1829.5" y="1199.3" font-size="12" fill="#131722" text-anchor="middle">26</text>
<text x="1892.5" y="1199.3" font-size="11.4" fill="#131722" font-weight="bold" text-anchor="middle">Aug</text>
<text x="1945.5" y="1199.3" font-size="12" fill="#131722" text-anchor="middle">6</text>
<text x="9.7" y="18.8" font-size="12" fill="#131722" textLength="89.1" lengthAdjust="spacingAndGlyphs">arman_shirinyan</text>
<text x="102.3" y="18.8" font-size="12" fill="#131722" textLength="51.1" lengthAdjust="spacingAndGlyphs">published</text>
<text x="156.6" y="18.8" font-size="12" fill="#131722" textLength="13.4" lengthAdjust="spacingAndGlyphs">on</text>
<text x="173.6" y="18.8" font-size="12" fill="#131722" textLength="94.6" lengthAdjust="spacingAndGlyphs">TradingView.com,</text>
<text x="272.1" y="18.8" font-size="12" fill="#131722" textLength="18.8" lengthAdjust="spacingAndGlyphs">Jun</text>
<text x="293.9" y="18.8" font-size="12" fill="#131722" textLength="17.4" lengthAdjust="spacingAndGlyphs">05,</text>
<text x="315.1" y="18.8" font-size="12" fill="#131722" textLength="25.3" lengthAdjust="spacingAndGlyphs">2025</text>
<text x="344.2" y="18.8" font-size="12" fill="#131722" textLength="29.3" lengthAdjust="spacingAndGlyphs">12:35</text>
<text x="377.6" y="18.8" font-size="12" fill="#131722" textLength="21.6" lengthAdjust="spacingAndGlyphs">UTC</text>
<text x="17.5" y="45.9" font-size="11.8" fill="#131722" textLength="24.4" lengthAdjust="spacingAndGlyphs">SHIB</text>
<text x="46.5" y="45.9" font-size="11.8" fill="#131722">/</text>
<text x="54.7" y="45.9" font-size="11.8" fill="#131722" textLength="48.9" lengthAdjust="spacingAndGlyphs">TetherUS</text>
<text x="114.9" y="45.9" font-size="11.8" fill="#131722" textLength="13.8" lengthAdjust="spacingAndGlyphs">1D</text>
<text x="139.9" y="45.9" font-size="11.8" fill="#131722" textLength="46.4" lengthAdjust="spacingAndGlyphs">BINANCE</text>
<text x="109.3" y="45.9" font-size="11.8" fill="#131722" text-anchor="middle">·</text>
<text x="133.8" y="45.9" font-size="11.8" fill="#131722" text-anchor="middle">·</text>
<text x="193.3" y="45.9" font-size="11.8" fill="#131722" textLength="8.2" lengthAdjust="spacingAndGlyphs">O</text>
<text x="269.5" y="45.9" font-size="11.8" fill="#131722" textLength="8.2" lengthAdjust="spacingAndGlyphs">H</text>
<text x="346.1" y="45.9" font-size="11.8" fill="#131722" textLength="5.9" lengthAdjust="spacingAndGlyphs">L</text>
<text x="419.9" y="45.9" font-size="11.8" fill="#131722" textLength="7.5" lengthAdjust="spacingAndGlyphs">C</text>
<text x="201" y="45.9" font-size="11.8" fill="#089981" textLength="62.1" lengthAdjust="spacingAndGlyphs">0.00001280</text>
<text x="276.8" y="45.9" font-size="11.8" fill="#089981" textLength="62.4" lengthAdjust="spacingAndGlyphs">0.00001295</text>
<text x="351.2" y="45.9" font-size="11.8" fill="#089981" textLength="61.6" lengthAdjust="spacingAndGlyphs">0.00001271</text>
<text x="426.8" y="45.9" font-size="11.8" fill="#089981" textLength="61.6" lengthAdjust="spacingAndGlyphs">0.00001291</text>
<text x="495.9" y="45.9" font-size="11.8" fill="#089981" textLength="66.5" lengthAdjust="spacingAndGlyphs">+0.00000010</text>
<text x="567" y="45.9" font-size="11.8" fill="#089981" textLength="45.3" lengthAdjust="spacingAndGlyphs">(+0.78%)</text>
<g fill="#161616">
<path d="M10,1221.3h8.1v9.4h-4.4v-5.1h-3.7z"/>
<circle cx="21.1" cy="1223.2" r="1.9"/>
<path d="M24,1221.3h5.6l-3.7,9.4h-4.7z"/>
</g>
<text x="33.3" y="1230.7" font-size="12.6" fill="#161616" textLength="70.2" lengthAdjust="spacingAndGlyphs" stroke="#161616" stroke-width="0.25">TradingView</text>
</svg>
</body></html>
